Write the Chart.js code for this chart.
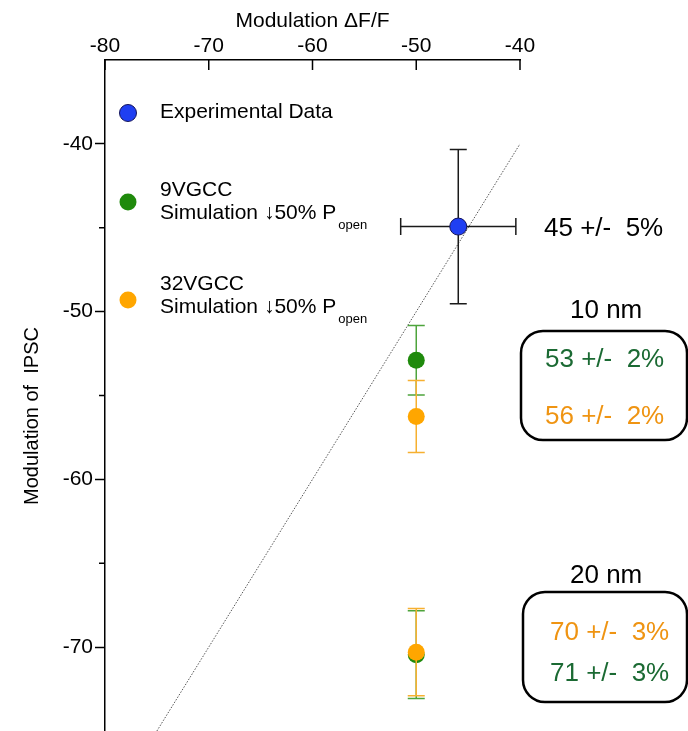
<!DOCTYPE html>
<html>
<head>
<meta charset="utf-8">
<script src="https://cdn.jsdelivr.net/npm/chart.js@4.4.1/dist/chart.umd.min.js"></script>
<style>
  html, body { margin: 0; padding: 0; background: #fff; }
  canvas { display: block; }
</style>
</head>
<body>
<canvas id="c" width="688" height="731"></canvas>
<script>
// ---- Data ----
const xTicks = [-80, -70, -60, -50, -40];
const yTicks = [-40, -50, -60, -70];
const yMinorTicks = [-45, -55, -65];

const expX = [-45.95];
const expY = [-44.93];
const expXErr = [5.55];
const expYErr = [4.6];

const sim9X = [-50, -50];
const sim9Y = [-52.9, -70.45];
const sim9YErr = [2.07, 2.62];

const sim32X = [-50, -50];
const sim32Y = [-56.25, -70.3];
const sim32YErr = [2.15, 2.6];

const identityX = [-75, -40];
const identityY = [-75, -40];

const seriesLabels = ['Experimental Data', '9VGCC', '32VGCC'];
const simLine = 'Simulation \u219350% P';
const simSub = 'open';

const annExp = '45 +/-  5%';
const ann10Title = '10 nm';
const ann10 = ['53 +/-  2%', '56 +/-  2%'];
const ann20Title = '20 nm';
const ann20 = ['70 +/-  3%', '71 +/-  3%'];

// ---- Styles ----
const FONT = '"Liberation Sans", Arial, sans-serif';
const BLUE = '#1f3ff2', GREEN = '#1f8a0c', ORANGE = '#ffa600';
const TXT_GREEN = '#1b6a33', TXT_ORANGE = '#ef9412';

const toPts = (xs, ys) => xs.map((x, i) => ({ x: x, y: ys[i] }));

const overlay = {
  id: 'overlay',
  beforeDatasetDraw(chart, args) {
    const ds = chart.data.datasets[args.index];
    if (!ds.errY) return;
    const xs = chart.scales.x, ys = chart.scales.y, ctx = chart.ctx;
    ctx.save();
    ctx.strokeStyle = ds.errColor;
    ctx.lineWidth = 1.5;
    const cap = 8.5;
    ds.data.forEach((p, i) => {
      const px = xs.getPixelForValue(p.x);
      const py = ys.getPixelForValue(p.y);
      const yt = ys.getPixelForValue(p.y + ds.errY[i]);
      const yb = ys.getPixelForValue(p.y - ds.errY[i]);
      ctx.beginPath();
      ctx.moveTo(px, yt); ctx.lineTo(px, yb);
      ctx.moveTo(px - cap, yt); ctx.lineTo(px + cap, yt);
      ctx.moveTo(px - cap, yb); ctx.lineTo(px + cap, yb);
      if (ds.errX) {
        const xl = xs.getPixelForValue(p.x - ds.errX[i]);
        const xr = xs.getPixelForValue(p.x + ds.errX[i]);
        ctx.moveTo(xl, py); ctx.lineTo(xr, py);
        ctx.moveTo(xl, py - cap); ctx.lineTo(xl, py + cap);
        ctx.moveTo(xr, py - cap); ctx.lineTo(xr, py + cap);
      }
      ctx.stroke();
    });
    ctx.restore();
  },
  afterDraw(chart) {
    const ctx = chart.ctx, xs = chart.scales.x, ys = chart.scales.y;
    const area = chart.chartArea;
    ctx.save();
    // inward ticks on top x axis
    ctx.strokeStyle = '#000';
    ctx.lineWidth = 1.5;
    ctx.beginPath();
    xTicks.forEach(v => {
      const px = xs.getPixelForValue(v);
      ctx.moveTo(px, area.top); ctx.lineTo(px, area.top + 10);
    });
    // minor y ticks (outward)
    yMinorTicks.forEach(v => {
      const py = ys.getPixelForValue(v);
      ctx.moveTo(area.left, py); ctx.lineTo(area.left - 6, py);
    });
    ctx.stroke();

    // y axis title
    ctx.save();
    ctx.translate(32, 416);
    ctx.rotate(-Math.PI / 2);
    ctx.fillStyle = '#000';
    ctx.font = '20px ' + FONT;
    ctx.textAlign = 'center';
    ctx.textBaseline = 'middle';
    ctx.fillText('Modulation of  IPSC', 0, 0);
    ctx.restore();

    // legend
    const mark = (x, y, c, border) => {
      ctx.beginPath();
      ctx.arc(x, y, 8.5, 0, Math.PI * 2);
      ctx.fillStyle = c; ctx.fill();
      if (border) { ctx.lineWidth = 1; ctx.strokeStyle = border; ctx.stroke(); }
    };
    ctx.textAlign = 'left';
    ctx.textBaseline = 'middle';
    const tx = 160;
    mark(128, 113, BLUE, '#14145a');
    ctx.fillStyle = '#000';
    ctx.font = '21px ' + FONT;
    ctx.fillText(seriesLabels[0], tx, 112);

    const simEntry = (label, yMark, yL1, yL2, color) => {
      mark(128, yMark, color, null);
      ctx.fillStyle = '#000';
      ctx.font = '21px ' + FONT;
      ctx.fillText(label, tx, yL1);
      ctx.fillText(simLine, tx, yL2);
      const w = ctx.measureText(simLine).width;
      ctx.font = '13px ' + FONT;
      ctx.fillText(simSub, tx + w + 2, yL2 + 12);
    };
    simEntry(seriesLabels[1], 202, 190, 213, GREEN);
    simEntry(seriesLabels[2], 300, 284, 307, ORANGE);

    // annotations
    ctx.font = '26px ' + FONT;
    ctx.textAlign = 'left';
    ctx.fillStyle = '#000';
    ctx.fillText(annExp, 544, 229);
    ctx.fillText(ann10Title, 570, 311);
    ctx.fillText(ann20Title, 570, 576);

    const rbox = (x, y, w, h, r) => {
      ctx.beginPath();
      ctx.moveTo(x + r, y);
      ctx.lineTo(x + w - r, y);
      ctx.arcTo(x + w, y, x + w, y + r, r);
      ctx.lineTo(x + w, y + h - r);
      ctx.arcTo(x + w, y + h, x + w - r, y + h, r);
      ctx.lineTo(x + r, y + h);
      ctx.arcTo(x, y + h, x, y + h - r, r);
      ctx.lineTo(x, y + r);
      ctx.arcTo(x, y, x + r, y, r);
      ctx.closePath();
      ctx.lineWidth = 2.5;
      ctx.strokeStyle = '#000';
      ctx.stroke();
    };
    rbox(521, 331, 166, 109, 22);
    rbox(523, 592, 164, 110, 22);

    ctx.fillStyle = TXT_GREEN;
    ctx.fillText(ann10[0], 545, 360);
    ctx.fillStyle = TXT_ORANGE;
    ctx.fillText(ann10[1], 545, 417);
    ctx.fillStyle = TXT_ORANGE;
    ctx.fillText(ann20[0], 550, 633);
    ctx.fillStyle = TXT_GREEN;
    ctx.fillText(ann20[1], 550, 674);
    ctx.restore();
  }
};

new Chart(document.getElementById('c'), {
  type: 'scatter',
  data: {
    datasets: [
      {
        label: seriesLabels[0],
        data: toPts(expX, expY),
        errX: expXErr, errY: expYErr, errColor: '#1a1a1a',
        backgroundColor: BLUE, borderColor: '#14145a', borderWidth: 1,
        pointRadius: 8.5, order: 1
      },
      {
        label: seriesLabels[2],
        data: toPts(sim32X, sim32Y),
        errY: sim32YErr, errColor: '#f6b030',
        backgroundColor: ORANGE, borderColor: ORANGE, borderWidth: 0,
        pointRadius: 8.5, order: 2
      },
      {
        label: seriesLabels[1],
        data: toPts(sim9X, sim9Y),
        errY: sim9YErr, errColor: '#4ea43c',
        backgroundColor: GREEN, borderColor: GREEN, borderWidth: 0,
        pointRadius: 8.5, order: 3
      },
      {
        type: 'line',
        label: 'identity',
        data: toPts(identityX, identityY),
        borderColor: '#555', borderWidth: 1, borderDash: [1.5, 1.5],
        pointRadius: 0, fill: false, order: 10
      }
    ]
  },
  options: {
    responsive: false,
    animation: false,
    devicePixelRatio: 1,
    layout: { autoPadding: false, padding: { left: 0, right: 168, top: 0, bottom: 0 } },
    plugins: { legend: { display: false }, tooltip: { enabled: false } },
    scales: {
      x: {
        type: 'linear', position: 'top', min: -80, max: -40,
        afterBuildTicks: s => { s.ticks = xTicks.map(v => ({ value: v })); },
        afterFit: s => { s.height = 60; },
        ticks: { color: '#000', font: { family: FONT, size: 21 }, padding: 1, maxRotation: 0 },
        grid: { drawOnChartArea: false, drawTicks: false },
        border: { display: true, color: '#000', width: 1.5 },
        title: { display: true, text: 'Modulation \u0394F/F', color: '#000',
                 font: { family: FONT, size: 21 }, padding: { top: 9, bottom: 0 } }
      },
      y: {
        type: 'linear', position: 'left', min: -75, max: -35,
        afterBuildTicks: s => { s.ticks = yTicks.map(v => ({ value: v })); },
        afterFit: s => { s.width = 105; s.paddingTop = 0; s.paddingBottom = 0; },
        ticks: { color: '#000', font: { family: FONT, size: 21 }, padding: 2 },
        grid: { drawOnChartArea: false, drawTicks: true, tickLength: 10, color: '#000', tickWidth: 1.5 },
        border: { display: true, color: '#000', width: 1.5 }
      }
    }
  },
  plugins: [overlay]
});
</script>
</body>
</html>
